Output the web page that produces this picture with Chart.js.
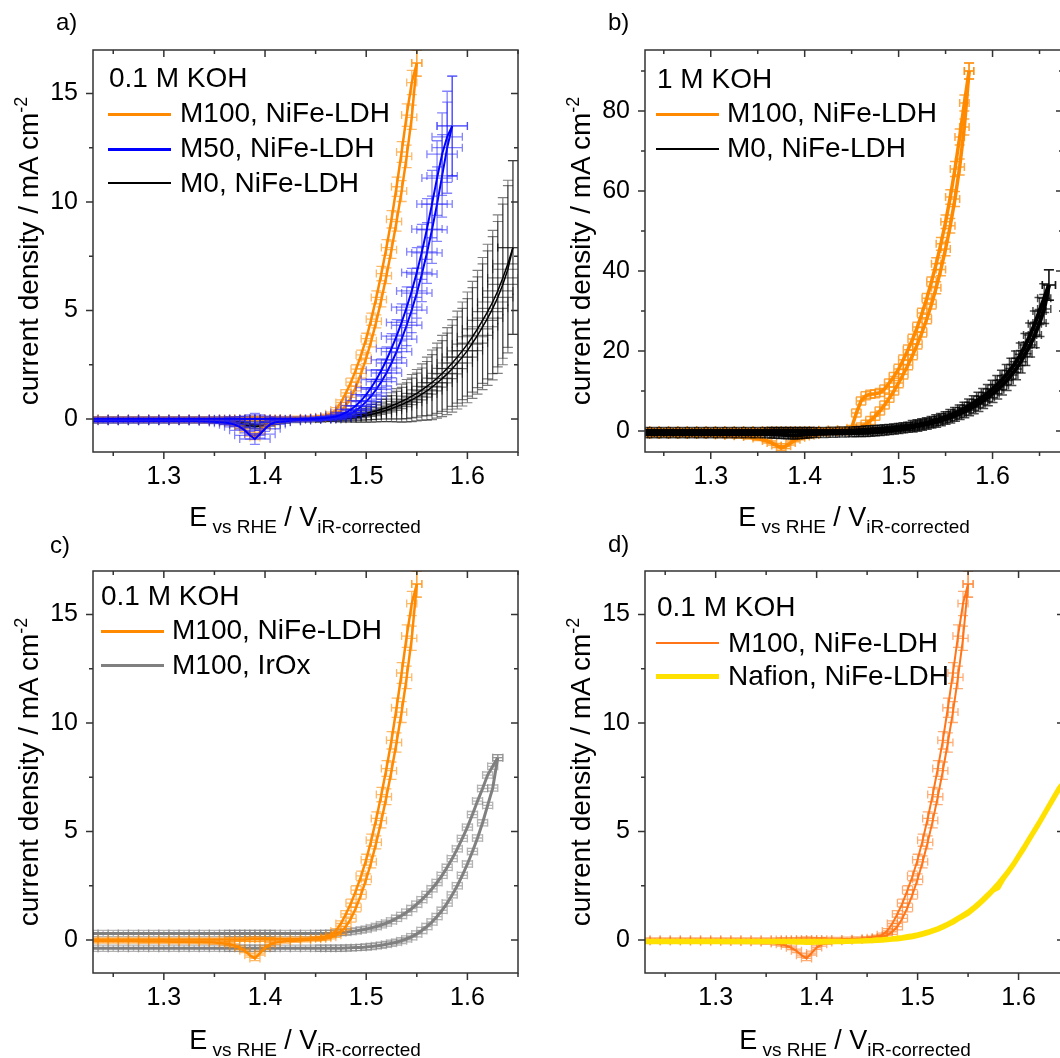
<!DOCTYPE html>
<html>
<head>
<meta charset="utf-8">
<script src="https://cdn.jsdelivr.net/npm/chart.js@4.4.1/dist/chart.umd.min.js"></script>
<style>
  html, body { margin: 0; padding: 0; background: #fff; }
  body { width: 1060px; height: 1058px; position: relative; overflow: hidden;
         font-family: "Liberation Sans", Arial, sans-serif; color: #000; }
  canvas { position: absolute; }
  .t { position: absolute; white-space: nowrap; font-size: 28px; line-height: 28px; }
  .key { position: absolute; width: 63px; }
  .lbl { position: absolute; font-size: 24px; line-height: 24px; }
  .ytitle { position: absolute; white-space: nowrap; font-size: 28px; line-height: 30px;
            transform: translate(-50%, -50%) rotate(-90deg); }
  .ytitle sup { font-size: 18px; vertical-align: 11px; line-height: 0; }
  .xtitle { position: absolute; white-space: nowrap; font-size: 27px; line-height: 27px;
            transform: translateX(-50%); }
  .xtitle sub { font-size: 19px; vertical-align: -7px; line-height: 0; }
</style>
</head>
<body>
<canvas id="ca" width="530" height="530" style="left:0;top:0"></canvas>
<canvas id="cb" width="540" height="530" style="left:530px;top:0"></canvas>
<canvas id="cc" width="530" height="530" style="left:0;top:521px"></canvas>
<canvas id="cd" width="540" height="530" style="left:530px;top:521px"></canvas>

<div class="lbl" style="left:56px;top:10px">a)</div>
<div class="lbl" style="left:608px;top:10px">b)</div>
<div class="lbl" style="left:50px;top:533px">c)</div>
<div class="lbl" style="left:608px;top:532px">d)</div>

<div class="ytitle" style="left:29px;top:251px">current density / mA cm<sup>-2</sup></div>
<div class="ytitle" style="left:581px;top:251px">current density / mA cm<sup>-2</sup></div>
<div class="ytitle" style="left:29px;top:772px">current density / mA cm<sup>-2</sup></div>
<div class="ytitle" style="left:581px;top:772px">current density / mA cm<sup>-2</sup></div>

<div class="xtitle" style="left:305px;top:504px">E<sub> vs RHE</sub> / V<sub>iR-corrected</sub></div>
<div class="xtitle" style="left:854px;top:504px">E<sub> vs RHE</sub> / V<sub>iR-corrected</sub></div>
<div class="xtitle" style="left:305px;top:1027px">E<sub> vs RHE</sub> / V<sub>iR-corrected</sub></div>
<div class="xtitle" style="left:855px;top:1027px">E<sub> vs RHE</sub> / V<sub>iR-corrected</sub></div>

<!-- legends -->
<div class="t" style="left:109px;top:64px">0.1 M KOH</div>
<div class="key" style="left:108px;top:113px;height:2.5px;background:#ff8a00"></div>
<div class="t" style="left:180px;top:99px">M100, NiFe-LDH</div>
<div class="key" style="left:108px;top:148px;height:2.5px;background:#0000ff"></div>
<div class="t" style="left:180px;top:134px">M50, NiFe-LDH</div>
<div class="key" style="left:108px;top:182px;height:2px;background:#000"></div>
<div class="t" style="left:180px;top:169px">M0, NiFe-LDH</div>

<div class="t" style="left:657px;top:65px">1 M KOH</div>
<div class="key" style="left:656px;top:113px;height:2.5px;background:#ff8a00"></div>
<div class="t" style="left:727px;top:99px">M100, NiFe-LDH</div>
<div class="key" style="left:656px;top:148px;height:2px;background:#000"></div>
<div class="t" style="left:727px;top:134px">M0, NiFe-LDH</div>

<div class="t" style="left:101px;top:582px">0.1 M KOH</div>
<div class="key" style="left:101px;top:630px;height:2.5px;background:#ff8a00"></div>
<div class="t" style="left:172px;top:616px">M100, NiFe-LDH</div>
<div class="key" style="left:101px;top:664px;height:3px;background:#808080"></div>
<div class="t" style="left:172px;top:651px">M100, IrOx</div>

<div class="t" style="left:657px;top:593px">0.1 M KOH</div>
<div class="key" style="left:656px;top:642px;height:2px;background:#ff7518"></div>
<div class="t" style="left:728px;top:629px">M100, NiFe-LDH</div>
<div class="key" style="left:656px;top:674px;height:5px;background:#ffe100"></div>
<div class="t" style="left:728px;top:662px">Nafion, NiFe-LDH</div>

<script>
// potential grid shared by every scan (V vs RHE)
const X_GRID = [
  1.23, 1.24, 1.25, 1.26, 1.27, 1.28, 1.29, 1.30, 1.31, 1.32,
  1.33, 1.34, 1.35, 1.36, 1.365, 1.37, 1.375, 1.38, 1.385, 1.39,
  1.395, 1.40, 1.405, 1.41, 1.42, 1.43, 1.44, 1.45, 1.455, 1.46,
  1.465, 1.47, 1.475, 1.48, 1.485, 1.49, 1.495, 1.50, 1.505, 1.51,
  1.515, 1.52, 1.525, 1.53, 1.535, 1.54, 1.545, 1.55, 1.555, 1.56,
  1.565, 1.57, 1.575, 1.58, 1.585, 1.59, 1.595, 1.60, 1.605, 1.61,
  1.615, 1.62, 1.625, 1.63, 1.635, 1.64, 1.645, 1.65, 1.655, 1.66
];

// 0.1 M KOH, M100 NiFe-LDH
const M100_01_FWD = [
  0.02, 0.02, 0.02, 0.02, 0.02, 0.02, 0.02, 0.02, 0.02, 0.02,
  0.02, 0.02, 0.02, 0.02, 0.02, 0.02, 0.02, 0.02, 0.03, 0.03,
  0.03, 0.03, 0.03, 0.04, 0.04, 0.05, 0.06, 0.08, 0.10, 0.14,
  0.24, 0.42, 0.76, 1.2, 1.7, 2.3, 2.95, 3.7, 4.6, 5.6,
  6.7, 7.9, 9.2, 10.7, 12.3, 14.0, 15.5, 16.4, null, null,
  null, null, null, null, null, null, null, null, null, null,
  null, null, null, null, null, null, null, null, null, null
];
const M100_01_REV = [
  -0.06, -0.06, -0.06, -0.06, -0.06, -0.07, -0.07, -0.07, -0.08, -0.08,
  -0.09, -0.10, -0.12, -0.16, -0.20, -0.26, -0.36, -0.50, -0.70, -0.85,
  -0.60, -0.35, -0.20, -0.12, -0.06, -0.03, 0.0, 0.03, 0.05, 0.08,
  0.13, 0.22, 0.38, 0.62, 1.0, 1.5, 2.1, 2.8, 3.6, 4.5,
  5.5, 6.6, 7.8, 9.1, 10.5, 12.1, 13.9, 16.4, null, null,
  null, null, null, null, null, null, null, null, null, null,
  null, null, null, null, null, null, null, null, null, null
];
const M100_01_ERR = [
  0.08, 0.08, 0.08, 0.08, 0.08, 0.08, 0.08, 0.08, 0.08, 0.08,
  0.08, 0.08, 0.08, 0.08, 0.08, 0.08, 0.08, 0.08, 0.09, 0.10,
  0.09, 0.08, 0.08, 0.08, 0.08, 0.08, 0.08, 0.08, 0.08, 0.08,
  0.08, 0.10, 0.12, 0.15, 0.18, 0.20, 0.22, 0.25, 0.28, 0.30,
  0.33, 0.36, 0.40, 0.44, 0.48, 0.52, 0.56, 0.60, null, null,
  null, null, null, null, null, null, null, null, null, null,
  null, null, null, null, null, null, null, null, null, null
];

// 0.1 M KOH, M50 NiFe-LDH
const M50_FWD = [
  0.01, 0.01, 0.01, 0.01, 0.01, 0.01, 0.01, 0.01, 0.01, 0.01,
  0.01, 0.01, 0.01, 0.01, 0.01, 0.01, 0.01, 0.01, 0.01, 0.01,
  0.01, 0.01, 0.01, 0.01, 0.01, 0.01, 0.01, 0.02, 0.03, 0.05,
  0.08, 0.12, 0.19, 0.30, 0.44, 0.62, 0.85, 1.12, 1.45, 1.82,
  2.25, 2.72, 3.25, 3.82, 4.45, 5.15, 5.9, 6.75, 7.7, 8.75,
  9.9, 11.1, 12.2, 13.0, 13.5, null, null, null, null, null,
  null, null, null, null, null, null, null, null, null, null
];
const M50_REV = [
  -0.10, -0.10, -0.10, -0.10, -0.10, -0.10, -0.10, -0.10, -0.10, -0.10,
  -0.10, -0.11, -0.13, -0.16, -0.20, -0.26, -0.36, -0.52, -0.75, -0.92,
  -0.70, -0.45, -0.25, -0.15, -0.10, -0.06, -0.04, -0.02, 0.0, 0.02,
  0.03, 0.06, 0.10, 0.16, 0.26, 0.40, 0.58, 0.80, 1.06, 1.37,
  1.72, 2.12, 2.58, 3.1, 3.68, 4.32, 5.02, 5.8, 6.68, 7.65,
  8.72, 9.9, 11.2, 12.5, 13.5, null, null, null, null, null,
  null, null, null, null, null, null, null, null, null, null
];
const M50_ERR = [
  0.08, 0.08, 0.08, 0.08, 0.08, 0.08, 0.08, 0.08, 0.08, 0.08,
  0.08, 0.08, 0.08, 0.08, 0.08, 0.08, 0.10, 0.12, 0.18, 0.25,
  0.18, 0.12, 0.08, 0.08, 0.08, 0.08, 0.08, 0.08, 0.08, 0.08,
  0.08, 0.10, 0.12, 0.15, 0.18, 0.22, 0.27, 0.32, 0.38, 0.45,
  0.52, 0.60, 0.68, 0.76, 0.85, 0.94, 1.04, 1.15, 1.27, 1.40,
  1.55, 1.72, 1.90, 2.10, 2.30, null, null, null, null, null,
  null, null, null, null, null, null, null, null, null, null
];

// 0.1 M KOH, M0 NiFe-LDH
const M0_01_FWD = [
  0.0, 0.0, 0.0, 0.0, 0.0, 0.0, 0.0, 0.0, 0.0, 0.0,
  0.0, 0.0, 0.0, 0.0, 0.0, 0.0, 0.0, 0.0, 0.0, 0.0,
  0.0, 0.0, 0.0, 0.0, 0.0, 0.0, 0.0, 0.0, 0.01, 0.02,
  0.03, 0.05, 0.07, 0.10, 0.13, 0.17, 0.21, 0.26, 0.32, 0.38,
  0.45, 0.52, 0.61, 0.70, 0.81, 0.92, 1.05, 1.18, 1.34, 1.50,
  1.68, 1.88, 2.10, 2.33, 2.58, 2.85, 3.14, 3.45, 3.79, 4.15,
  4.54, 4.95, 5.39, 5.9, 6.5, 7.15, 7.9, null, null, null
];
const M0_01_REV = [
  -0.09, -0.09, -0.09, -0.09, -0.09, -0.09, -0.09, -0.09, -0.09, -0.09,
  -0.09, -0.09, -0.10, -0.12, -0.14, -0.16, -0.20, -0.26, -0.32, -0.36,
  -0.32, -0.26, -0.18, -0.14, -0.10, -0.07, -0.05, -0.04, -0.03, -0.02,
  -0.01, 0.0, 0.01, 0.03, 0.05, 0.08, 0.12, 0.16, 0.21, 0.27,
  0.33, 0.40, 0.48, 0.57, 0.66, 0.77, 0.88, 1.01, 1.15, 1.30,
  1.47, 1.66, 1.86, 2.08, 2.32, 2.58, 2.85, 3.15, 3.5, 3.85,
  4.25, 4.65, 5.1, 5.6, 6.2, 6.9, 7.9, null, null, null
];
const M0_01_ERR = [
  0.1, 0.1, 0.1, 0.1, 0.1, 0.1, 0.1, 0.1, 0.1, 0.1,
  0.1, 0.1, 0.1, 0.1, 0.1, 0.1, 0.1, 0.1, 0.1, 0.1,
  0.1, 0.1, 0.1, 0.1, 0.1, 0.1, 0.1, 0.1, 0.1, 0.1,
  0.10, 0.12, 0.14, 0.16, 0.18, 0.22, 0.26, 0.30, 0.35, 0.40,
  0.45, 0.52, 0.60, 0.70, 0.80, 0.90, 1.00, 1.10, 1.20, 1.35,
  1.50, 1.62, 1.75, 1.88, 2.00, 2.12, 2.25, 2.40, 2.55, 2.70,
  2.90, 3.10, 3.30, 3.50, 3.70, 3.85, 4.00, null, null, null
];

// 1 M KOH, M100 NiFe-LDH
const M100_1M_FWD = [
  0.2, 0.2, 0.2, 0.2, 0.2, 0.2, 0.2, 0.2, 0.2, 0.2,
  0.2, 0.2, 0.2, 0.2, 0.2, 0.2, 0.2, 0.2, 0.2, 0.2,
  0.2, 0.2, 0.2, 0.25, 0.3, 0.35, 0.45, 0.8, 4.5, 7.5,
  8.8, 9.2, 9.3, 9.6, 10.5, 12.0, 13.6, 15.5, 17.8, 20.3,
  23.0, 26.0, 29.5, 33.2, 37.3, 41.8, 46.8, 52.3, 58.5, 65.5,
  73.5, 82.0, 90.0, null, null, null, null, null, null, null,
  null, null, null, null, null, null, null, null, null, null
];
const M100_1M_REV = [
  -1.0, -1.0, -1.0, -1.0, -1.0, -1.0, -1.0, -1.0, -1.1, -1.2,
  -1.3, -1.5, -1.9, -2.5, -3.0, -3.6, -4.2, -3.8, -3.0, -2.2,
  -1.7, -1.4, -1.2, -1.0, -0.6, -0.4, -0.2, 0.1, 0.5, 1.0,
  1.7, 2.6, 3.7, 5.0, 6.5, 8.2, 10.0, 12.0, 14.2, 16.5,
  19.0, 21.7, 24.7, 28.0, 31.7, 35.8, 40.4, 45.5, 51.3, 58.0,
  66.0, 76.0, 90.0, null, null, null, null, null, null, null,
  null, null, null, null, null, null, null, null, null, null
];
const M100_1M_ERR = [
  0.5, 0.5, 0.5, 0.5, 0.5, 0.5, 0.5, 0.5, 0.5, 0.5,
  0.5, 0.5, 0.5, 0.5, 0.5, 0.5, 0.6, 0.6, 0.5, 0.5,
  0.5, 0.5, 0.5, 0.5, 0.5, 0.5, 0.5, 0.6, 1.0, 1.0,
  1.0, 1.0, 1.0, 1.0, 1.0, 1.0, 1.0, 1.2, 1.2, 1.2,
  1.2, 1.2, 1.2, 1.2, 1.2, 1.5, 1.6, 1.7, 1.8, 1.9,
  2.0, 2.0, 2.0, null, null, null, null, null, null, null,
  null, null, null, null, null, null, null, null, null, null
];

// 1 M KOH, M0 NiFe-LDH
const M0_1M_FWD = [
  0.0, 0.0, 0.0, 0.0, 0.0, 0.0, 0.0, 0.0, 0.0, 0.0,
  0.0, 0.0, 0.0, 0.0, 0.0, 0.0, 0.0, 0.0, 0.0, 0.0,
  0.0, 0.0, 0.0, 0.0, 0.0, 0.05, 0.08, 0.12, 0.15, 0.2,
  0.25, 0.3, 0.37, 0.45, 0.55, 0.65, 0.77, 0.9, 1.05, 1.2,
  1.4, 1.6, 1.85, 2.1, 2.4, 2.75, 3.1, 3.5, 3.95, 4.45,
  5.0, 5.6, 6.3, 7.0, 7.8, 8.6, 9.5, 10.5, 11.6, 12.8,
  14.1, 15.6, 17.3, 19.2, 21.5, 24.0, 26.8, 30.0, 33.2, 36.5
];
const M0_1M_REV = [
  -0.8, -0.8, -0.8, -0.8, -0.8, -0.8, -0.8, -0.8, -0.8, -0.8,
  -0.8, -0.8, -0.8, -0.8, -0.85, -0.9, -0.95, -1.0, -1.1, -1.1,
  -1.0, -0.9, -0.8, -0.75, -0.7, -0.65, -0.6, -0.55, -0.5, -0.45,
  -0.38, -0.3, -0.2, -0.1, 0.0, 0.12, 0.25, 0.4, 0.55, 0.75,
  0.95, 1.15, 1.4, 1.65, 1.95, 2.25, 2.6, 3.0, 3.4, 3.85,
  4.35, 4.9, 5.5, 6.1, 6.8, 7.6, 8.4, 9.3, 10.3, 11.4,
  12.6, 14.0, 15.5, 17.3, 19.3, 21.5, 24.0, 27.0, 30.5, 36.5
];
const M0_1M_ERR = [
  0.9, 0.9, 0.9, 0.9, 0.9, 0.9, 0.9, 0.9, 0.9, 0.9,
  0.9, 0.9, 0.9, 0.9, 0.9, 0.9, 0.9, 0.9, 0.9, 0.9,
  0.9, 0.9, 0.9, 0.9, 0.9, 0.9, 0.9, 0.9, 0.9, 0.9,
  1.0, 1.0, 1.0, 1.0, 1.0, 1.0, 1.0, 1.0, 1.0, 1.0,
  1.2, 1.2, 1.2, 1.2, 1.2, 1.3, 1.3, 1.3, 1.4, 1.4,
  1.5, 1.6, 1.7, 1.8, 1.9, 2.0, 2.1, 2.2, 2.3, 2.4,
  2.5, 2.6, 2.7, 2.8, 2.9, 3.0, 3.2, 3.4, 3.6, 3.8
];

// 0.1 M KOH, M100 IrOx
const IROX_FWD = [
  0.3, 0.3, 0.3, 0.3, 0.3, 0.3, 0.3, 0.3, 0.3, 0.3,
  0.3, 0.3, 0.3, 0.3, 0.3, 0.3, 0.3, 0.3, 0.3, 0.3,
  0.3, 0.3, 0.3, 0.3, 0.3, 0.3, 0.3, 0.3, 0.3, 0.3,
  0.31, 0.32, 0.34, 0.36, 0.39, 0.42, 0.46, 0.5, 0.56, 0.62,
  0.7, 0.78, 0.88, 1.0, 1.13, 1.28, 1.45, 1.65, 1.86, 2.1,
  2.36, 2.65, 2.98, 3.35, 3.75, 4.2, 4.68, 5.2, 5.78, 6.4,
  6.98, 7.6, 8.0, 8.4, null, null, null, null, null, null
];
const IROX_REV = [
  -0.38, -0.38, -0.38, -0.38, -0.38, -0.38, -0.38, -0.38, -0.38, -0.38,
  -0.38, -0.38, -0.38, -0.38, -0.38, -0.38, -0.38, -0.38, -0.38, -0.38,
  -0.38, -0.38, -0.38, -0.38, -0.38, -0.38, -0.38, -0.38, -0.38, -0.38,
  -0.38, -0.38, -0.38, -0.37, -0.36, -0.35, -0.34, -0.32, -0.3, -0.27,
  -0.24, -0.2, -0.15, -0.1, -0.03, 0.05, 0.15, 0.28, 0.44, 0.62,
  0.83, 1.08, 1.37, 1.7, 2.08, 2.5, 2.98, 3.5, 4.08, 4.7,
  5.4, 6.2, 7.0, 8.4, null, null, null, null, null, null
];
const IROX_ERR = 0.14;

// 0.1 M KOH, Nafion NiFe-LDH
const NAFION_FWD = [
  -0.05, -0.05, -0.05, -0.05, -0.05, -0.05, -0.05, -0.05, -0.05, -0.05,
  -0.05, -0.05, -0.05, -0.05, -0.05, -0.05, -0.05, -0.05, -0.05, -0.05,
  -0.05, -0.05, -0.05, -0.05, -0.05, -0.04, -0.03, -0.01, 0.0, 0.02,
  0.03, 0.05, 0.07, 0.1, 0.13, 0.17, 0.21, 0.26, 0.32, 0.38,
  0.46, 0.54, 0.64, 0.75, 0.88, 1.02, 1.16, 1.3, 1.48, 1.68,
  1.9, 2.12, 2.36, 2.62, 2.9, 3.2, 3.52, 3.9, 4.26, 4.65,
  5.02, 5.4, 5.8, 6.2, 6.6, 7.0, 7.3, null, null, null
];
const NAFION_REV = [
  -0.09, -0.09, -0.09, -0.09, -0.09, -0.09, -0.09, -0.09, -0.09, -0.09,
  -0.09, -0.09, -0.09, -0.09, -0.09, -0.09, -0.10, -0.11, -0.12, -0.13,
  -0.13, -0.12, -0.11, -0.10, -0.09, -0.08, -0.07, -0.06, -0.05, -0.03,
  -0.02, 0.0, 0.02, 0.04, 0.07, 0.1, 0.14, 0.19, 0.25, 0.32,
  0.4, 0.48, 0.58, 0.69, 0.81, 0.95, 1.08, 1.22, 1.4, 1.6,
  1.82, 2.04, 2.28, 2.4, 2.82, 3.12, 3.45, 3.82, 4.18, 4.57,
  4.95, 5.33, 5.73, 6.13, 6.53, 6.93, 7.3, null, null, null
];

// axis ticks
const X_TICKS = [1.3, 1.4, 1.5, 1.6];
const X_MINOR = [1.25, 1.35, 1.45, 1.55, 1.65];
const Y_TICKS_01 = [0, 5, 10, 15];
const Y_MINOR_01 = [2.5, 7.5, 12.5];
const Y_TICKS_1M = [0, 20, 40, 60, 80];
const Y_MINOR_1M = [10, 30, 50, 70, 90];

const TICK_FONT = { family: '"Liberation Sans", Arial, sans-serif', size: 25 };

function pts(ys, errs) {
  const out = [];
  X_GRID.forEach((x, i) => {
    if (ys[i] == null) return;
    const e = Array.isArray(errs) ? errs[i] : (errs || 0);
    out.push({ x, y: ys[i], e });
  });
  return out;
}

function scan(ys, errs, color, width, errColor, errX, errWidth) {
  return {
    data: pts(ys, errs),
    borderColor: color,
    borderWidth: width,
    pointRadius: 0,
    tension: 0,
    fill: false,
    errColor,
    errX: errX || 0,
    errWidth: errWidth || 1.2
  };
}

// x and y error bars for every point, drawn just under that scan's line
const errorBars = {
  id: 'errorBars',
  beforeDatasetDraw(chart, args) {
    const ds = chart.data.datasets[args.index];
    if (!ds.errColor) return;
    const { ctx, chartArea: a, scales: { x, y } } = chart;
    const cap = 5;
    ctx.save();
    ctx.beginPath();
    ctx.rect(a.left, a.top, a.right - a.left, a.bottom - a.top);
    ctx.clip();
    ctx.strokeStyle = ds.errColor;
    ctx.lineWidth = ds.errWidth;
    for (const p of ds.data) {
      const px = x.getPixelForValue(p.x), py = y.getPixelForValue(p.y);
      const t = y.getPixelForValue(p.y + p.e), b = y.getPixelForValue(p.y - p.e);
      const l = x.getPixelForValue(p.x - ds.errX), r = x.getPixelForValue(p.x + ds.errX);
      ctx.beginPath();
      ctx.moveTo(px, t); ctx.lineTo(px, b);
      ctx.moveTo(px - cap, t); ctx.lineTo(px + cap, t);
      ctx.moveTo(px - cap, b); ctx.lineTo(px + cap, b);
      if (ds.errX) {
        ctx.moveTo(l, py); ctx.lineTo(r, py);
        ctx.moveTo(l, py - 4); ctx.lineTo(l, py + 4);
        ctx.moveTo(r, py - 4); ctx.lineTo(r, py + 4);
      }
      ctx.stroke();
    }
    ctx.restore();
  }
};

// box frame with ticks on all four sides
const frame = {
  id: 'frame',
  afterDraw(chart, args, o) {
    const { ctx, chartArea: a, scales: { x, y } } = chart;
    ctx.save();
    ctx.strokeStyle = '#333';
    ctx.lineWidth = 1.5;
    ctx.strokeRect(a.left, a.top, a.right - a.left, a.bottom - a.top);
    ctx.beginPath();
    const xt = (vals, len) => vals.forEach(v => {
      const px = x.getPixelForValue(v);
      if (px < a.left - 1 || px > a.right + 1) return;
      ctx.moveTo(px, a.bottom); ctx.lineTo(px, a.bottom + len);
      ctx.moveTo(px, a.top); ctx.lineTo(px, a.top + len);
    });
    const yt = (vals, len) => vals.forEach(v => {
      const py = y.getPixelForValue(v);
      if (py < a.top - 1 || py > a.bottom + 1) return;
      ctx.moveTo(a.left - len, py); ctx.lineTo(a.left, py);
      ctx.moveTo(a.right - len, py); ctx.lineTo(a.right, py);
    });
    xt(o.xMajor, 7); xt(o.xMinor, 4);
    yt(o.yMajor, 7); yt(o.yMinor, 4);
    ctx.stroke();
    ctx.restore();
  }
};

function makeChart(id, datasets, o) {
  return new Chart(document.getElementById(id), {
    type: 'line',
    data: { datasets },
    plugins: [errorBars, frame],
    options: {
      responsive: false,
      animation: false,
      devicePixelRatio: 1,
      layout: { padding: { top: 50, right: o.padRight, bottom: 0, left: 0 } },
      plugins: {
        legend: { display: false },
        tooltip: { enabled: false },
        frame: { xMajor: X_TICKS, xMinor: X_MINOR, yMajor: o.yTicks, yMinor: o.yMinor }
      },
      scales: {
        x: {
          type: 'linear', min: o.xMin, max: o.xMax,
          grid: { display: false, drawTicks: false },
          border: { display: false },
          afterBuildTicks: s => { s.ticks = X_TICKS.map(v => ({ value: v })); },
          afterFit: s => { s.height = 78; },
          ticks: { font: TICK_FONT, color: '#000', padding: 10, maxRotation: 0, autoSkip: false,
                   callback: v => v.toFixed(1) }
        },
        y: {
          type: 'linear', min: o.yMin, max: o.yMax,
          grid: { display: false, drawTicks: false },
          border: { display: false },
          afterBuildTicks: s => { s.ticks = o.yTicks.map(v => ({ value: v })); },
          afterFit: s => { s.width = o.yWidth; },
          ticks: { font: TICK_FONT, color: '#000', padding: 15, autoSkip: false,
                   callback: v => String(v) }
        }
      }
    }
  });
}

const ORANGE = '#ff8a00', ORANGE_ERR = 'rgba(255,138,0,0.6)';
const BLUE = '#0000ff', BLUE_ERR = 'rgba(30,30,255,0.55)';
const BLACK = '#000', BLACK_ERR = 'rgba(0,0,0,0.5)';
const GREY = '#808080', GREY_ERR = 'rgba(128,128,128,0.6)';

makeChart('ca', [
  scan(M50_FWD, M50_ERR, BLUE, 2, BLUE_ERR, 0.015, 1.3),
  scan(M50_REV, M50_ERR, BLUE, 2, BLUE_ERR, 0.015, 1.3),
  scan(M100_01_FWD, M100_01_ERR, ORANGE, 2.5, ORANGE_ERR, 0.005, 1.3),
  scan(M100_01_REV, M100_01_ERR, ORANGE, 2.5, ORANGE_ERR, 0.005, 1.3),
  scan(M0_01_FWD, M0_01_ERR, BLACK, 1.5, BLACK_ERR, 0.015, 1.2),
  scan(M0_01_REV, M0_01_ERR, BLACK, 1.5, BLACK_ERR, 0.015, 1.2)
], { xMin: 1.23, xMax: 1.65, yMin: -1.52, yMax: 17.0, yTicks: Y_TICKS_01, yMinor: Y_MINOR_01, yWidth: 93, padRight: 12 });

makeChart('cb', [
  scan(M0_1M_FWD, M0_1M_ERR, BLACK, 4, 'rgba(0,0,0,0.7)', 0.007, 1.5),
  scan(M0_1M_REV, M0_1M_ERR, BLACK, 4, 'rgba(0,0,0,0.7)', 0.007, 1.5),
  scan(M100_1M_FWD, M100_1M_ERR, ORANGE, 3.5, 'rgba(255,138,0,0.75)', 0.005, 1.5),
  scan(M100_1M_REV, M100_1M_ERR, ORANGE, 3.5, 'rgba(255,138,0,0.75)', 0.005, 1.5)
], { xMin: 1.23, xMax: 1.675, yMin: -5.25, yMax: 95.25, yTicks: Y_TICKS_1M, yMinor: Y_MINOR_1M, yWidth: 115, padRight: 7 });

makeChart('cc', [
  scan(M100_01_FWD, M100_01_ERR, ORANGE, 2.5, ORANGE_ERR, 0.005, 1.3),
  scan(M100_01_REV, M100_01_ERR, ORANGE, 2.5, ORANGE_ERR, 0.005, 1.3),
  scan(IROX_FWD, IROX_ERR, GREY, 3, GREY_ERR, 0.005, 1.3),
  scan(IROX_REV, IROX_ERR, GREY, 3, GREY_ERR, 0.005, 1.3)
], { xMin: 1.23, xMax: 1.65, yMin: -1.52, yMax: 17.0, yTicks: Y_TICKS_01, yMinor: Y_MINOR_01, yWidth: 93, padRight: 12 });

makeChart('cd', [
  scan(NAFION_FWD, 0, '#ffe100', 4.5),
  scan(NAFION_REV, 0, '#ffe100', 4.5),
  scan(M100_01_FWD, M100_01_ERR, '#ff7518', 2, 'rgba(255,117,24,0.6)', 0.005, 1.3),
  scan(M100_01_REV, M100_01_ERR, '#ff7518', 2, 'rgba(255,117,24,0.6)', 0.005, 1.3)
], { xMin: 1.23, xMax: 1.645, yMin: -1.52, yMax: 17.0, yTicks: Y_TICKS_01, yMinor: Y_MINOR_01, yWidth: 115, padRight: 6 });
</script>
</body>
</html>
